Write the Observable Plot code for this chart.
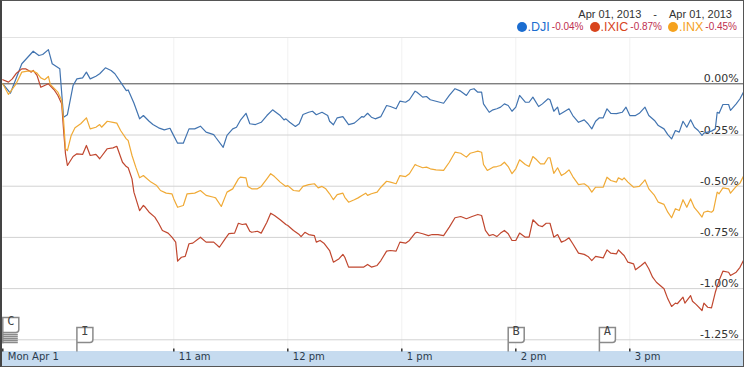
<!DOCTYPE html>
<html>
<head>
<meta charset="utf-8">
<script src="https://cdn.jsdelivr.net/npm/d3@7"></script>
<script src="https://cdn.jsdelivr.net/npm/@observablehq/plot@0.6"></script>
<style>
  body { margin: 0; background: #fff; }
  #wrap { position: relative; width: 744px; height: 367px; overflow: hidden; background: #fff; font-family: "Liberation Sans", Arial, sans-serif; }
  #hdr { position: absolute; left: 0; top: 0; width: 744px; height: 38px; box-sizing: border-box; border-bottom: 1px solid #e2e2e2; }
  #date { position: absolute; right: 12px; top: 8px; font-size: 11px; color: #333; white-space: nowrap; line-height: 13px; }
  #date .sep { margin: 0 12px; }
  #legend { position: absolute; right: 7px; top: 20px; white-space: nowrap; line-height: 14px; display: flex; align-items: center; }
  #legend .item { display: flex; align-items: center; margin-left: 6px; }
  #legend .dot { display: inline-block; width: 10px; height: 10px; border-radius: 50%; margin-right: 1px; }
  #legend .tk { font-size: 12.5px; }
  #legend .pct { font-size: 10px; color: #c0304f; margin-left: 2px; }
  #band { position: absolute; left: 0; top: 351px; width: 744px; height: 16px; background: #c6dbef; }
  #chart { position: absolute; left: 0; top: 38px; }
  #border { position: absolute; left: 0; top: 0; width: 744px; height: 367px; box-sizing: border-box; border: 1px solid #555; border-left: 2px solid #444; pointer-events: none; }
</style>
</head>
<body>
<div id="wrap">
  <div id="hdr">
    <div id="date"></div>
    <div id="legend"></div>
  </div>
  <div id="band"></div>
  <div id="chart"></div>
  <div id="border"></div>
</div>
<script>
// ---------- data (minutes after 9:30 open, % change) ----------
const dateFrom = "Apr 01, 2013";
const dateTo = "Apr 01, 2013";

const tickers = [".DJI", ".IXIC", ".INX"];
const changes = ["-0.04%", "-0.87%", "-0.45%"];
const dotColors = ["#1b6dd0", "#d8441c", "#f5a21e"];
const lineColors = ["#4274b0", "#c0472f", "#f0aa36"];

const djiPoints = [[0,0.000],[4,-0.046],[10,0.098],[16,0.159],[19,0.138],[21,0.143],[24,0.167],[26,0.098],[30,0.073],[32,-0.163],[34,-0.151],[37,-0.008],[39,0.024],[42,0.029],[44,0.057],[46,0.024],[49,0.037],[51,0.049],[54,0.078],[57,0.065],[59,0.049],[62,0.008],[65,-0.033],[66,-0.030],[69,-0.094],[72,-0.171],[74,-0.155],[77,-0.183],[79,-0.199],[82,-0.215],[85,-0.225],[88,-0.217],[89,-0.236],[92,-0.290],[95,-0.290],[98,-0.220],[101,-0.220],[104,-0.207],[107,-0.236],[111,-0.248],[112,-0.261],[116,-0.310],[118,-0.252],[121,-0.220],[123,-0.212],[125,-0.179],[128,-0.144],[130,-0.195],[133,-0.199],[136,-0.188],[139,-0.155],[142,-0.127],[143,-0.134],[146,-0.155],[148,-0.176],[149,-0.171],[151,-0.188],[154,-0.208],[156,-0.195],[158,-0.150],[161,-0.139],[163,-0.134],[165,-0.151],[168,-0.139],[171,-0.155],[172,-0.183],[174,-0.200],[176,-0.166],[179,-0.160],[182,-0.199],[185,-0.192],[187,-0.176],[189,-0.160],[190,-0.163],[192,-0.144],[194,-0.163],[196,-0.171],[199,-0.160],[202,-0.106],[204,-0.111],[207,-0.122],[209,-0.085],[212,-0.090],[214,-0.078],[217,-0.036],[218,-0.041],[221,-0.065],[223,-0.062],[225,-0.078],[228,-0.085],[232,-0.095],[235,-0.057],[238,-0.024],[241,-0.036],[244,-0.057],[246,-0.029],[248,-0.024],[250,-0.041],[252,-0.041],[253,-0.098],[256,-0.139],[258,-0.127],[260,-0.122],[262,-0.114],[264,-0.098],[266,-0.106],[268,-0.134],[270,-0.114],[272,-0.057],[275,-0.090],[277,-0.090],[279,-0.065],[282,-0.111],[284,-0.098],[287,-0.073],[288,-0.078],[290,-0.134],[292,-0.114],[293,-0.150],[295,-0.139],[298,-0.122],[300,-0.155],[303,-0.188],[306,-0.176],[308,-0.195],[310,-0.220],[312,-0.183],[314,-0.166],[316,-0.166],[318,-0.122],[320,-0.144],[323,-0.146],[326,-0.139],[328,-0.114],[330,-0.155],[333,-0.155],[335,-0.144],[338,-0.114],[340,-0.155],[343,-0.179],[345,-0.204],[348,-0.220],[350,-0.248],[352,-0.269],[354,-0.228],[356,-0.236],[358,-0.183],[360,-0.212],[362,-0.176],[364,-0.212],[366,-0.228],[368,-0.252],[369,-0.241],[371,-0.236],[373,-0.231],[375,-0.220],[376,-0.139],[377,-0.144],[379,-0.101],[382,-0.101],[383,-0.130],[386,-0.098],[388,-0.073],[390,-0.038]];

const ixicPoints = [[0,0.020],[3,0.008],[5,0.024],[7,0.050],[10,0.073],[12,0.073],[15,0.057],[16,0.065],[18,0.041],[20,-0.017],[22,-0.008],[24,0.000],[27,-0.029],[29,-0.057],[31,-0.098],[32,-0.228],[33,-0.342],[34,-0.399],[37,-0.355],[39,-0.342],[42,-0.345],[44,-0.301],[46,-0.350],[49,-0.345],[51,-0.366],[55,-0.317],[58,-0.313],[60,-0.305],[63,-0.383],[65,-0.404],[66,-0.410],[68,-0.464],[69,-0.529],[72,-0.619],[74,-0.594],[75,-0.603],[77,-0.627],[80,-0.651],[82,-0.681],[84,-0.716],[87,-0.729],[89,-0.749],[91,-0.773],[92,-0.866],[94,-0.847],[96,-0.843],[98,-0.781],[100,-0.778],[103,-0.757],[104,-0.749],[107,-0.773],[110,-0.773],[111,-0.773],[114,-0.798],[117,-0.757],[119,-0.732],[122,-0.729],[124,-0.681],[126,-0.687],[128,-0.684],[130,-0.720],[131,-0.725],[134,-0.720],[136,-0.729],[139,-0.676],[141,-0.632],[143,-0.643],[146,-0.664],[149,-0.687],[150,-0.692],[153,-0.716],[156,-0.736],[157,-0.746],[159,-0.725],[161,-0.736],[164,-0.741],[165,-0.773],[167,-0.765],[169,-0.778],[172,-0.814],[174,-0.871],[177,-0.854],[179,-0.833],[180,-0.847],[182,-0.895],[185,-0.895],[187,-0.895],[190,-0.895],[192,-0.882],[194,-0.895],[197,-0.887],[199,-0.863],[202,-0.817],[204,-0.814],[207,-0.817],[209,-0.773],[212,-0.778],[214,-0.765],[217,-0.729],[218,-0.725],[221,-0.732],[224,-0.741],[226,-0.736],[229,-0.736],[232,-0.741],[235,-0.700],[238,-0.654],[241,-0.648],[244,-0.659],[247,-0.648],[250,-0.638],[252,-0.643],[254,-0.716],[256,-0.741],[258,-0.736],[260,-0.746],[262,-0.729],[264,-0.716],[266,-0.732],[268,-0.765],[270,-0.765],[272,-0.729],[275,-0.749],[277,-0.749],[279,-0.664],[282,-0.692],[284,-0.697],[286,-0.681],[288,-0.681],[290,-0.749],[292,-0.736],[294,-0.773],[296,-0.765],[298,-0.752],[300,-0.781],[303,-0.827],[306,-0.833],[308,-0.843],[310,-0.863],[312,-0.843],[316,-0.850],[318,-0.811],[320,-0.827],[323,-0.830],[324,-0.811],[326,-0.830],[327,-0.838],[329,-0.871],[332,-0.879],[333,-0.908],[336,-0.887],[338,-0.871],[340,-0.903],[342,-0.944],[344,-0.969],[348,-1.001],[350,-1.050],[352,-1.087],[354,-1.071],[355,-1.074],[358,-1.042],[359,-1.071],[362,-1.034],[363,-1.062],[365,-1.078],[368,-1.107],[369,-1.071],[371,-1.091],[373,-1.094],[375,-1.018],[377,-0.960],[379,-0.915],[382,-0.920],[383,-0.936],[386,-0.920],[388,-0.896],[390,-0.859]];

const inxPoints = [[0,0.000],[3,-0.052],[7,0.000],[10,0.057],[13,0.062],[16,0.062],[18,0.052],[20,0.029],[22,0.020],[24,0.036],[25,-0.003],[29,-0.041],[31,-0.082],[32,-0.179],[33,-0.317],[34,-0.326],[36,-0.252],[38,-0.215],[41,-0.195],[44,-0.166],[46,-0.220],[49,-0.212],[51,-0.199],[52,-0.212],[55,-0.183],[58,-0.188],[60,-0.192],[62,-0.228],[65,-0.269],[66,-0.277],[68,-0.350],[70,-0.407],[72,-0.459],[74,-0.448],[75,-0.456],[78,-0.480],[81,-0.497],[83,-0.521],[86,-0.534],[89,-0.537],[90,-0.562],[92,-0.603],[95,-0.594],[97,-0.537],[101,-0.534],[104,-0.521],[107,-0.545],[111,-0.554],[112,-0.557],[115,-0.599],[118,-0.529],[121,-0.513],[124,-0.464],[125,-0.456],[128,-0.459],[129,-0.501],[131,-0.513],[134,-0.513],[136,-0.501],[139,-0.464],[141,-0.439],[143,-0.453],[146,-0.480],[149,-0.501],[150,-0.497],[153,-0.521],[156,-0.524],[158,-0.501],[161,-0.492],[164,-0.488],[166,-0.508],[168,-0.501],[170,-0.513],[172,-0.537],[174,-0.566],[176,-0.541],[179,-0.534],[180,-0.554],[182,-0.578],[185,-0.566],[187,-0.557],[189,-0.545],[191,-0.534],[192,-0.545],[194,-0.537],[197,-0.529],[199,-0.505],[202,-0.476],[204,-0.480],[207,-0.488],[209,-0.448],[212,-0.453],[214,-0.439],[217,-0.394],[218,-0.399],[221,-0.410],[223,-0.407],[225,-0.415],[228,-0.420],[232,-0.423],[235,-0.383],[238,-0.334],[241,-0.339],[244,-0.358],[246,-0.339],[248,-0.334],[250,-0.329],[252,-0.334],[253,-0.394],[255,-0.423],[258,-0.407],[260,-0.404],[262,-0.399],[264,-0.383],[266,-0.404],[268,-0.439],[270,-0.415],[272,-0.371],[275,-0.394],[277,-0.404],[279,-0.355],[281,-0.371],[283,-0.391],[285,-0.391],[287,-0.361],[288,-0.361],[290,-0.437],[292,-0.410],[294,-0.448],[296,-0.437],[298,-0.420],[300,-0.453],[303,-0.492],[306,-0.488],[308,-0.501],[310,-0.529],[312,-0.505],[316,-0.505],[318,-0.456],[320,-0.472],[323,-0.480],[324,-0.459],[326,-0.469],[327,-0.459],[329,-0.480],[332,-0.505],[335,-0.501],[337,-0.480],[338,-0.469],[340,-0.513],[343,-0.545],[345,-0.578],[348,-0.589],[350,-0.627],[352,-0.654],[354,-0.610],[356,-0.619],[358,-0.566],[360,-0.603],[362,-0.562],[364,-0.605],[366,-0.627],[368,-0.651],[369,-0.627],[371,-0.622],[373,-0.627],[374,-0.619],[376,-0.529],[377,-0.537],[379,-0.508],[382,-0.513],[383,-0.534],[386,-0.501],[388,-0.485],[390,-0.448]];

const yTicks = [0, -0.25, -0.5, -0.75, -1.0, -1.25];
const yTickLabels = ["0.00%", "-0.25%", "-0.50%", "-0.75%", "-1.00%", "-1.25%"];
const xTicks = [0, 90, 150, 210, 270, 330];
const xTickLabels = ["Mon Apr 1", "11 am", "12 pm", "1 pm", "2 pm", "3 pm"];
const xGrid = [90, 150, 210, 270, 330];
const flagLetters = ["C", "I", "B", "A"];
const flagTimes = [0, 39, 266, 314];

// ---------- header ----------
document.getElementById("date").innerHTML =
  `<span>${dateFrom}</span><span class="sep">-</span><span>${dateTo}</span>`;
const legend = document.getElementById("legend");
tickers.forEach((tk, i) => {
  const it = document.createElement("span");
  it.className = "item";
  it.innerHTML = `<span class="dot" style="background:${dotColors[i]}"></span>` +
    `<span class="tk" style="color:${dotColors[i]}">${tk}</span>` +
    `<span class="pct">${changes[i]}</span>`;
  legend.appendChild(it);
});

// ---------- chart ----------
const seriesPoints = [djiPoints, ixicPoints, inxPoints];
const rows = [];
seriesPoints.forEach((pts, i) => pts.forEach(([t, v]) => rows.push({name: tickers[i], t, v})));
const flags = flagLetters.map((l, i) => ({letter: l, t: flagTimes[i]}));

const flagSym = {draw(ctx) {
  ctx.moveTo(0, 0); ctx.lineTo(0, -24); ctx.lineTo(16, -24); ctx.lineTo(16, -12);
  ctx.quadraticCurveTo(16, -9, 13, -9); ctx.lineTo(0, -9); ctx.closePath();
}};
const stackSym = {draw(ctx) {
  ctx.moveTo(0, -8); ctx.lineTo(0, -34); ctx.lineTo(16, -34); ctx.lineTo(16, -22);
  ctx.quadraticCurveTo(16, -19, 13, -19); ctx.lineTo(0, -19);
  for (let k = 0; k < 5; k++) { const yy = -17 + 2 * k; ctx.moveTo(0, yy); ctx.lineTo(15, yy); }
}};
const tickSym = {draw(ctx) { ctx.moveTo(0, 0); ctx.lineTo(0, -3); }};

const chart = Plot.plot({
  width: 744,
  height: 329,
  marginLeft: 2.3,
  marginRight: 0.7,
  marginTop: 0,
  marginBottom: 16,
  style: "background: transparent; font-family: 'DejaVu Sans', Verdana, sans-serif;",
  x: {domain: [0, 390], axis: null},
  y: {domain: [-1.3071, 0.2212], axis: null},
  color: {domain: tickers, range: lineColors},
  marks: [
    Plot.ruleX(xGrid, {stroke: "#f1f1f1"}),
    Plot.ruleY(yTicks.filter(d => d !== 0), {stroke: "#d2d2d2"}),
    Plot.ruleY([0], {stroke: "#4a4a4a"}),
    Plot.text(yTicks, {y: d => d, text: (d, i) => yTickLabels[i], frameAnchor: "right", textAnchor: "end", dx: -5, dy: -5, fontSize: 11, fill: "#333"}),
    Plot.line(rows, {x: "t", y: "v", z: "name", stroke: "name", strokeWidth: 1.2}),
    Plot.dot(xTicks, {x: d => d, frameAnchor: "bottom", symbol: tickSym, stroke: "#333", fill: "none"}),
    Plot.text(xTicks, {x: d => d, text: (d, i) => xTickLabels[i], frameAnchor: "bottom", textAnchor: "start", dx: 5, dy: 8, fontSize: 10, fill: "#2a3a4c"}),
    Plot.dot(flags.filter(f => f.letter !== "C"), {x: "t", frameAnchor: "bottom", symbol: flagSym, fill: "white", stroke: "#8a8a8a"}),
    Plot.dot(flags.filter(f => f.letter === "C"), {x: "t", frameAnchor: "bottom", symbol: stackSym, fill: "white", stroke: "#8a8a8a"}),
    Plot.text(flags.filter(f => f.letter !== "C"), {x: "t", text: "letter", frameAnchor: "bottom", dx: 8, dy: -16.5, fontSize: 12, fontFamily: "'DejaVu Sans Mono', monospace", fill: "#444"}),
    Plot.text(flags.filter(f => f.letter === "C"), {x: "t", text: "letter", frameAnchor: "bottom", dx: 8, dy: -26.5, fontSize: 12, fontFamily: "'DejaVu Sans Mono', monospace", fill: "#444"})
  ]
});
document.getElementById("chart").appendChild(chart);
</script>
</body>
</html>
